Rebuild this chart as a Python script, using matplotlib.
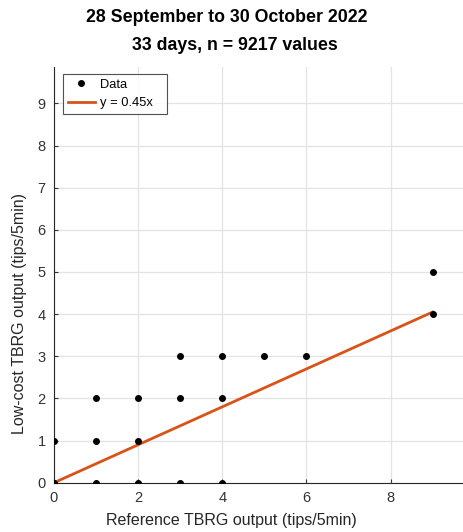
import numpy as np
import matplotlib.pyplot as plt

ref_tips = [0, 0, 1, 1, 1, 2, 2, 2, 3, 3, 3, 4, 4, 4, 5, 6, 9, 9]
lowcost_tips = [0, 1, 0, 1, 2, 0, 1, 2, 0, 2, 3, 0, 2, 3, 3, 3, 4, 5]
slope = 0.45
fit_x = [0, 9]

plt.rcParams['font.family'] = ['Liberation Sans', 'DejaVu Sans']

fig = plt.figure(figsize=(4.64, 5.32), dpi=100)
ax = fig.add_axes([54/464, 1-482.7/532, (463-54)/464, (482.7-66.7)/532])

ax.plot(ref_tips, lowcost_tips, 'o', color='black', markersize=4, label='Data', zorder=3)
ax.plot(fit_x, [slope*v for v in fit_x], color='#D95319', linewidth=2,
        label='y = 0.45x', zorder=2)

ax.set_xlim(0, 9.72)
ax.set_ylim(0, 9.87)
ax.set_xticks([0, 2, 4, 6, 8])
ax.set_yticks(range(10))
ax.grid(True, color='#e3e3e3', linewidth=0.9)
ax.set_axisbelow(True)
for s in ['top', 'right']:
    ax.spines[s].set_visible(False)
for s in ['left', 'bottom']:
    ax.spines[s].set_color('#262626')
    ax.spines[s].set_linewidth(0.8)
ax.tick_params(direction='in', length=3, width=0.8, colors='#333333',
               labelsize=10.5, pad=6)

fig.text(231/464, 1-521/532, 'Reference TBRG output (tips/5min)', ha='center', va='center',
         fontsize=11.5, color='#262626')
fig.text(20/464, 1-314/532, 'Low-cost TBRG output (tips/5min)', ha='center', va='center',
         fontsize=11.5, color='#262626', rotation=90)

# legend box stretched to the reference width
leg = ax.legend(loc='upper left', bbox_to_anchor=(63/464, 1-118/532, 104/464, 44/532),
                bbox_transform=fig.transFigure, mode='expand', fontsize=9.3, frameon=True,
                fancybox=False, edgecolor='#262626', handlelength=2.1,
                handletextpad=0.4, borderaxespad=0, borderpad=0.35, labelspacing=0.5)
leg.get_frame().set_linewidth(0.8)

fig.text(227/464, 1-18/532, '28 September to 30 October 2022', ha='center', va='center',
         fontsize=12.8, fontweight='bold')
fig.text(235/464, 1-46/532, '33 days, n = 9217 values', ha='center', va='center',
         fontsize=12.8, fontweight='bold')

fig.savefig('out.png', dpi=100)
